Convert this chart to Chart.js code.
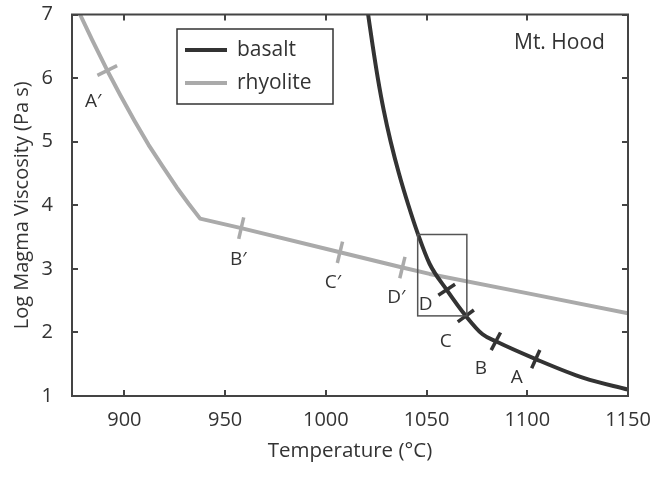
<!DOCTYPE html>
<html>
<head>
<meta charset="utf-8">
<script src="https://cdn.jsdelivr.net/npm/chart.js@4.4.0/dist/chart.umd.min.js"></script>
<style>
    html, body { margin: 0; padding: 0; background: #fff; }
    #wrap { width: 651px; height: 477px; position: relative; }
</style>
</head>
<body>
<div id="wrap"><canvas id="viscosityChart"></canvas></div>
<script>
// Mt. Hood: magma viscosity against temperature
const basaltTemp = [1021, 1023.3, 1025.8, 1028.7, 1032.2, 1036.3, 1041, 1045.7, 1051.5, 1060, 1069.5, 1077.8, 1084.4, 1104.2, 1128.3, 1150];
const basaltVisc = [7.0, 6.5, 6.0, 5.5, 5.0, 4.5, 4.0, 3.55, 3.08, 2.67, 2.26, 1.97, 1.86, 1.58, 1.28, 1.10];
const rhyoliteTemp = [878, 884, 891.5, 898, 905, 912, 919, 926, 932, 937.6, 958, 1007, 1038, 1051.5, 1101, 1150];
const rhyoliteVisc = [7.0, 6.60, 6.12, 5.73, 5.33, 4.95, 4.61, 4.28, 4.02, 3.79, 3.64, 3.26, 3.02, 2.92, 2.61, 2.30];

const basaltMarkNames = ['D', 'C', 'B', 'A'];
const basaltMarkTemp = [1060, 1069.5, 1084.4, 1104.2];
const basaltMarkVisc = [2.67, 2.26, 1.86, 1.58];
const rhyoliteMarkNames = ['A\u2032', 'B\u2032', 'C\u2032', 'D\u2032'];
const rhyoliteMarkTemp = [891.5, 958, 1007, 1038];
const rhyoliteMarkVisc = [6.12, 3.64, 3.26, 3.02];

const boxTemp = [1045.6, 1070];
const boxVisc = [2.26, 3.54];

const xTickValues = [900, 950, 1000, 1050, 1100, 1150];
const yTickValues = [1, 2, 3, 4, 5, 6, 7];

// label offsets in pixels from each mark
const basaltLabelShift = [[-21, 15], [-20, 26], [-15, 27], [-19, 18]];
const rhyoliteLabelShift = [[-14, 31], [-3, 31], [-7, 30], [-6, 30]];

const basaltColor = '#333333';
const rhyoliteColor = '#aaaaaa';
const textColor = '#333333';
const fontFamily = "'Open Sans', sans-serif";

function toPoints(xs, ys) {
    return xs.map((x, i) => ({ x: x, y: ys[i] }));
}

// tick across the curve: perpendicular to the curve's pixel direction
function crossAngle(chart, curveT, curveV, t) {
    const sx = chart.scales.x, sy = chart.scales.y;
    let i = 0;
    while (i < curveT.length - 2 && curveT[i + 1] < t) i++;
    const dx = sx.getPixelForValue(curveT[i + 1]) - sx.getPixelForValue(curveT[i]);
    const dy = sy.getPixelForValue(curveV[i + 1]) - sy.getPixelForValue(curveV[i]);
    return Math.atan2(dy, dx) * 180 / Math.PI + 90;
}

const decorations = {
    id: 'decorations',
    afterDatasetsDraw(chart) {
        const { ctx, chartArea: a, scales: { x, y } } = chart;
        ctx.save();

        // zoom box
        ctx.strokeStyle = '#555';
        ctx.lineWidth = 1.5;
        const bx0 = x.getPixelForValue(boxTemp[0]), bx1 = x.getPixelForValue(boxTemp[1]);
        const by0 = y.getPixelForValue(boxVisc[1]), by1 = y.getPixelForValue(boxVisc[0]);
        ctx.strokeRect(bx0, by0, bx1 - bx0, by1 - by0);

        // frame with inward ticks on all four sides
        ctx.strokeStyle = '#444';
        ctx.lineWidth = 2;
        ctx.strokeRect(a.left, a.top, a.width, a.height);
        ctx.beginPath();
        xTickValues.forEach(v => {
            const px = Math.round(x.getPixelForValue(v));
            ctx.moveTo(px, a.bottom); ctx.lineTo(px, a.bottom - 6);
            ctx.moveTo(px, a.top); ctx.lineTo(px, a.top + 6);
        });
        yTickValues.forEach(v => {
            const py = Math.round(y.getPixelForValue(v));
            ctx.moveTo(a.left, py); ctx.lineTo(a.left + 6, py);
            ctx.moveTo(a.right, py); ctx.lineTo(a.right - 6, py);
        });
        ctx.stroke();

        // mark labels
        ctx.fillStyle = textColor;
        ctx.font = '19px ' + fontFamily;
        ctx.textAlign = 'center';
        ctx.textBaseline = 'middle';
        basaltMarkNames.forEach((n, i) => {
            const px = x.getPixelForValue(basaltMarkTemp[i]) + basaltLabelShift[i][0];
            const py = y.getPixelForValue(basaltMarkVisc[i]) + basaltLabelShift[i][1];
            ctx.fillText(n, px, py);
        });
        rhyoliteMarkNames.forEach((n, i) => {
            const px = x.getPixelForValue(rhyoliteMarkTemp[i]) + rhyoliteLabelShift[i][0];
            const py = y.getPixelForValue(rhyoliteMarkVisc[i]) + rhyoliteLabelShift[i][1];
            ctx.fillText(n, px, py);
        });

        // site name
        ctx.font = '21px ' + fontFamily;
        ctx.textAlign = 'left';
        ctx.fillText('Mt. Hood', 514, 43);

        // legend
        ctx.fillStyle = '#fff';
        ctx.fillRect(177, 29, 156, 75);
        ctx.strokeStyle = '#333';
        ctx.lineWidth = 1.5;
        ctx.strokeRect(177, 29, 156, 75);
        const entries = [['basalt', basaltColor, 50], ['rhyolite', rhyoliteColor, 83]];
        entries.forEach(([name, color, ly]) => {
            ctx.strokeStyle = color;
            ctx.lineWidth = 4;
            ctx.beginPath();
            ctx.moveTo(185, ly); ctx.lineTo(227, ly);
            ctx.stroke();
            ctx.fillStyle = textColor;
            ctx.fillText(name, 237, ly);
        });

        ctx.restore();
    }
};

const ctx = document.getElementById('viscosityChart').getContext('2d');
window.viscosityChart = new Chart(ctx, {
    type: 'scatter',
    data: {
        datasets: [
            {
                label: 'basalt marks',
                data: toPoints(basaltMarkTemp, basaltMarkVisc),
                showLine: false,
                pointStyle: 'line',
                pointRadius: 10,
                pointBorderWidth: 3.5,
                borderColor: basaltColor,
                backgroundColor: basaltColor,
                rotation: c => crossAngle(c.chart, basaltTemp, basaltVisc, basaltMarkTemp[c.dataIndex]),
                order: 0
            },
            {
                label: 'rhyolite marks',
                data: toPoints(rhyoliteMarkTemp, rhyoliteMarkVisc),
                showLine: false,
                pointStyle: 'line',
                pointRadius: 11,
                pointBorderWidth: 3.5,
                borderColor: rhyoliteColor,
                backgroundColor: rhyoliteColor,
                rotation: c => crossAngle(c.chart, rhyoliteTemp, rhyoliteVisc, rhyoliteMarkTemp[c.dataIndex]),
                order: 1
            },
            {
                label: 'basalt',
                data: toPoints(basaltTemp, basaltVisc),
                showLine: true,
                borderColor: basaltColor,
                borderWidth: 4,
                pointRadius: 0,
                cubicInterpolationMode: 'monotone',
                order: 2
            },
            {
                label: 'rhyolite',
                data: toPoints(rhyoliteTemp, rhyoliteVisc),
                showLine: true,
                borderColor: rhyoliteColor,
                borderWidth: 4,
                pointRadius: 0,
                tension: 0,
                borderJoinStyle: 'round',
                order: 3
            }
        ]
    },
    options: {
        responsive: true,
        maintainAspectRatio: false,
        animation: false,
        layout: { padding: { left: 0, right: 23, top: 10, bottom: 0 } },
        plugins: {
            legend: { display: false },
            tooltip: { enabled: false }
        },
        scales: {
            x: {
                type: 'linear',
                min: 874,
                max: 1150,
                afterBuildTicks: s => { s.ticks = xTickValues.map(v => ({ value: v })); },
                afterFit: s => { s.height = 81; s.paddingLeft = 0; s.paddingRight = 0; },
                grid: { display: false, drawTicks: false },
                border: { display: false },
                ticks: { padding: 12, maxRotation: 0, color: textColor, font: { family: fontFamily, size: 20 }, callback: v => String(v) },
                title: { display: true, text: 'Temperature (\u00B0C)', color: textColor, padding: { top: 0, bottom: 14 }, font: { family: fontFamily, size: 20.5 } }
            },
            y: {
                type: 'linear',
                min: 1,
                max: 7,
                afterBuildTicks: s => { s.ticks = yTickValues.map(v => ({ value: v })); },
                afterFit: s => { s.width = 72; s.paddingTop = 0; s.paddingBottom = 0; },
                grid: { display: false, drawTicks: false },
                border: { display: false },
                ticks: { padding: 19, color: textColor, font: { family: fontFamily, size: 20 }, callback: v => String(v) },
                title: { display: true, text: 'Log Magma Viscosity (Pa s)', color: textColor, padding: { top: 10, bottom: 0 }, font: { family: fontFamily, size: 20 } }
            }
        }
    },
    plugins: [decorations]
});
</script>
</body>
</html>
